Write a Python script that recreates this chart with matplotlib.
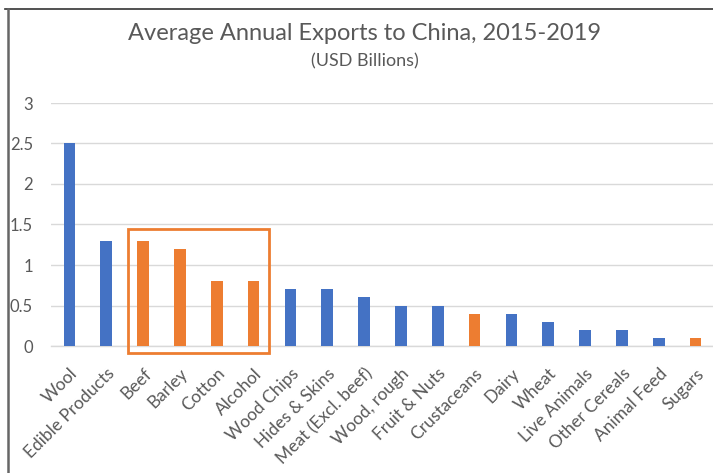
import matplotlib
matplotlib.use("Agg")
import matplotlib.pyplot as plt
from matplotlib.patches import Rectangle
from matplotlib.lines import Line2D

categories = ["Wool", "Edible Products", "Beef", "Barley", "Cotton", "Alcohol",
              "Wood Chips", "Hides & Skins", "Meat (Excl. beef)", "Wood, rough",
              "Fruit & Nuts", "Crustaceans", "Dairy", "Wheat", "Live Animals",
              "Other Cereals", "Animal Feed", "Sugars"]
values = [2.5, 1.3, 1.3, 1.2, 0.8, 0.8, 0.7, 0.7, 0.6, 0.5, 0.5, 0.4, 0.4,
          0.3, 0.2, 0.2, 0.1, 0.1]
highlighted = ["Beef", "Barley", "Cotton", "Alcohol", "Crustaceans", "Sugars"]
y_ticks = [0, 0.5, 1, 1.5, 2, 2.5, 3]
y_tick_labels = ["0", "0.5", "1", "1.5", "2", "2.5", "3"]

BLUE = "#4472C4"
ORANGE = "#ED7D31"
TEXT = "#595959"
GRID = "#D9D9D9"
FONT = ["Lato", "DejaVu Sans"]

W, H = 713, 473
fig = plt.figure(figsize=(W / 100, H / 100), dpi=100)
fig.patch.set_facecolor("white")

ax = fig.add_axes([51 / W, 127 / H, (714 - 51) / W, (346 - 103) / H])
colors = [ORANGE if c in highlighted else BLUE for c in categories]
x = list(range(len(categories)))
ax.bar(x, values, width=0.32, color=colors, zorder=3)

ax.set_xlim(-0.5, len(categories) - 0.5)
ax.set_ylim(0, 3)
ax.set_yticks(y_ticks)
ax.set_yticklabels(y_tick_labels, fontsize=12, color=TEXT, family=FONT)
ax.set_xticks(x)
ax.set_xticklabels(categories, rotation=45, ha="right", va="top",
                   rotation_mode="anchor", fontsize=12.5, color=TEXT, family=FONT)
ax.tick_params(axis="y", length=0, pad=13)
ax.tick_params(axis="x", length=0, pad=14)
ax.grid(axis="y", color=GRID, linewidth=1, zorder=0)
for s in ["top", "right", "left"]:
    ax.spines[s].set_visible(False)
ax.spines["bottom"].set_color(GRID)
ax.spines["bottom"].set_linewidth(1)
ax.set_facecolor("none")

# Box around the highlighted group Beef..Alcohol
x0_disp = 128
x1_disp = 269
inv = ax.transData.inverted()
(bx0, by_top) = inv.transform((x0_disp, H - 229))
(bx1, by_bot) = inv.transform((x1_disp, H - 353))
box = Rectangle((bx0, by_bot), bx1 - bx0, by_top - by_bot, fill=False,
                edgecolor=ORANGE, linewidth=2, clip_on=False, zorder=4)
ax.add_patch(box)

# Title block
fig.text(365 / W, 1 - 33 / H, "Average Annual Exports to China, 2015-2019",
         ha="center", va="center", fontsize=17, color=TEXT, family=FONT)
fig.text(365 / W, 1 - 61 / H, "(USD Billions)", ha="center", va="center",
         fontsize=13, color=TEXT, family=FONT)

# Chart frame edges
fig.add_artist(Line2D([5 / W, 1], [1 - 9.5 / H, 1 - 9.5 / H], color="#333333",
                      linewidth=1.2, transform=fig.transFigure))
fig.add_artist(Line2D([7.5 / W, 7.5 / W], [0, 1 - 9.5 / H], color="#666666",
                      linewidth=1.8, transform=fig.transFigure))

fig.savefig("out.png", dpi=100)
